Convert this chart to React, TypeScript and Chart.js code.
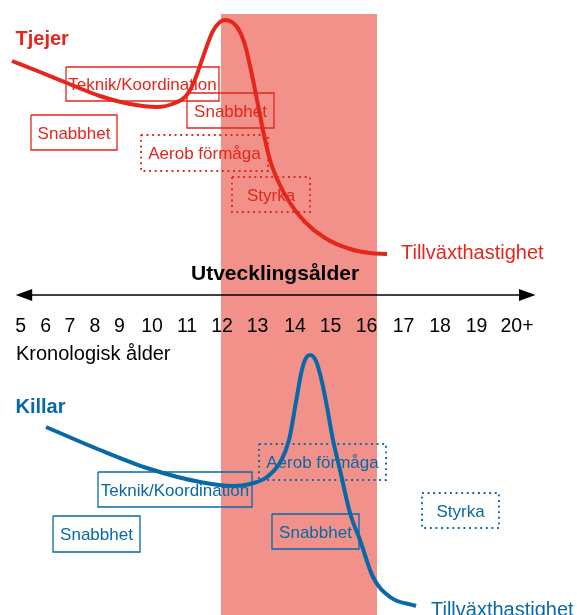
import React, { useEffect, useRef } from "react";
import { Chart, registerables } from "chart.js";

Chart.register(...registerables);

// ---- Diagram data (diagram units: x 0..577, y 0..615 from top) ----
const canvasW = 577;
const canvasH = 615;

// Growth-spurt band (developmental window)
const bandX = [221, 377];
const bandTopY = 14;

// Chronological age tick labels along the arrow
const ageLabels = ["5", "6", "7", "8", "9", "10", "11", "12", "13", "14", "15", "16", "17", "18", "19", "20+"];
const ageLabelX = [20.7, 45.7, 70, 95, 119.5, 152, 187, 222, 257.5, 295, 330.5, 366.5, 403.5, 440, 476.5, 517];

// Growth-velocity curve, girls (Tjejer)
const girlsCurveX = [12, 40, 67, 100, 130, 157, 175, 186, 194, 203, 213, 225, 237, 245, 252, 258, 264, 270, 278, 290, 305, 325, 350, 370, 387];
const girlsCurveY = [61, 72, 83, 96, 104, 107, 103, 96, 82, 57, 31, 20, 27, 45, 75, 105, 135, 160, 181, 203, 222, 238, 249, 253, 254];

// Growth-velocity curve, boys (Killar)
const boysCurveX = [46, 100, 150, 200, 233, 250, 267, 281, 289, 296, 301, 305, 310, 316, 322, 327, 333, 340, 350, 360, 373, 390, 416];
const boysCurveY = [427, 450, 469, 482, 486, 484, 477, 461, 440, 402, 374, 360, 355, 361, 382, 407, 440, 470, 513, 540, 577, 597, 606];

// Training windows, girls
const girlsBoxLabels = ["Teknik/Koordination", "Snabbhet", "Snabbhet", "Aerob förmåga", "Styrka"];
const girlsBoxX = [[66, 219], [187, 274], [31, 117], [141, 268], [232, 310]];
const girlsBoxY = [[67, 101], [93, 128], [115, 150], [135, 171], [177, 212]];
const girlsBoxDotted = [false, false, false, true, true];

// Training windows, boys
const boysBoxLabels = ["Teknik/Koordination", "Snabbhet", "Aerob förmåga", "Snabbhet", "Styrka"];
const boysBoxX = [[98, 252], [53, 140], [259, 386], [272, 359], [422, 499]];
const boysBoxY = [[472, 507], [516, 552], [444, 480], [514, 549], [493, 528]];
const boysBoxDotted = [false, false, true, false, true];

// Colours
const RED = "#e4261c";
const BLUE = "#0868a8";
const PINK = "#f1918a";
const FONT = '"Liberation Sans", Arial, sans-serif';

function boxData(xr: number[], yr: number[]) {
  return [
    { x: xr[0], y: yr[0] },
    { x: xr[1], y: yr[0] },
    { x: xr[1], y: yr[1] },
    { x: xr[0], y: yr[1] },
    { x: xr[0], y: yr[0] },
  ];
}

function boxDatasets(xs: number[][], ys: number[][], dotted: boolean[], color: string) {
  return xs.map((xr, i) => ({
    type: "line" as const,
    data: boxData(xr, ys[i]),
    borderColor: color,
    borderWidth: dotted[i] ? 1.9 : 1.3,
    borderDash: dotted[i] ? [1.9, 3.7] : [],
    borderCapStyle: "butt" as const,
    borderJoinStyle: "miter" as const,
    pointRadius: 0,
    tension: 0,
    fill: false,
    order: 50,
  }));
}

const diagramPlugin = {
  id: "diagramText",
  afterDatasetDraw(chart: any, args: any) {
    if (args.index !== 0) return; // right after the band: box labels under curves
    const { ctx, scales } = chart;
    const xs = scales.x;
    const ys = scales.y;
    ctx.save();
    ctx.font = `17px ${FONT}`;
    ctx.textAlign = "center";
    ctx.textBaseline = "alphabetic";
    const drawLabels = (labels: string[], bx: number[][], by: number[][], color: string) => {
      ctx.fillStyle = color;
      labels.forEach((lab, i) => {
        const cx = xs.getPixelForValue((bx[i][0] + bx[i][1]) / 2);
        const cy = ys.getPixelForValue((by[i][0] + by[i][1]) / 2);
        ctx.fillText(lab, cx, cy + 6);
      });
    };
    drawLabels(girlsBoxLabels, girlsBoxX, girlsBoxY, RED);
    drawLabels(boysBoxLabels, boysBoxX, boysBoxY, BLUE);
    ctx.restore();
  },
  afterDatasetsDraw(chart: any) {
    const { ctx, scales } = chart;
    const px = (v: number) => scales.x.getPixelForValue(v);
    const py = (v: number) => scales.y.getPixelForValue(v);
    ctx.save();

    // arrow axis
    const axisY = py(295);
    const left = px(15.7);
    const right = px(535.5);
    ctx.strokeStyle = "#000";
    ctx.fillStyle = "#000";
    ctx.lineWidth = 1.6;
    ctx.beginPath();
    ctx.moveTo(left + 8, axisY);
    ctx.lineTo(right - 8, axisY);
    ctx.stroke();
    ctx.beginPath();
    ctx.moveTo(left, axisY);
    ctx.lineTo(left + 16.5, axisY - 6);
    ctx.lineTo(left + 16.5, axisY + 6);
    ctx.closePath();
    ctx.fill();
    ctx.beginPath();
    ctx.moveTo(right, axisY);
    ctx.lineTo(right - 16.5, axisY - 6);
    ctx.lineTo(right - 16.5, axisY + 6);
    ctx.closePath();
    ctx.fill();

    // axis title
    ctx.font = `bold 21px ${FONT}`;
    ctx.textAlign = "left";
    ctx.textBaseline = "alphabetic";
    ctx.fillText("Utvecklingsålder", px(191), py(280));

    // tick labels
    ctx.font = `19.5px ${FONT}`;
    ctx.textAlign = "center";
    ageLabels.forEach((lab, i) => {
      ctx.fillText(lab, px(ageLabelX[i]), py(332));
    });
    ctx.textAlign = "left";
    ctx.font = `20px ${FONT}`;
    ctx.fillText("Kronologisk ålder", px(16), py(360));

    // group titles
    ctx.font = `bold 20px ${FONT}`;
    ctx.fillStyle = RED;
    ctx.fillText("Tjejer", px(15.5), py(45));
    ctx.fillStyle = BLUE;
    ctx.fillText("Killar", px(15.5), py(413));

    // curve end labels
    ctx.font = `20px ${FONT}`;
    ctx.fillStyle = RED;
    ctx.fillText("Tillväxthastighet", px(401), py(259));
    ctx.fillStyle = BLUE;
    ctx.fillText("Tillväxthastighet", px(431), py(615.5));

    ctx.restore();
  },
};

export default function App() {
  const ref = useRef<HTMLCanvasElement | null>(null);

  useEffect(() => {
    if (!ref.current) return;
    const datasets: any[] = [
      {
        type: "line",
        data: [
          { x: bandX[0], y: bandTopY },
          { x: bandX[1], y: bandTopY },
        ],
        borderWidth: 0,
        borderColor: "rgba(0,0,0,0)",
        backgroundColor: PINK,
        pointRadius: 0,
        fill: { value: canvasH },
        order: 100,
      },
      ...boxDatasets(girlsBoxX, girlsBoxY, girlsBoxDotted, RED),
      ...boxDatasets(boysBoxX, boysBoxY, boysBoxDotted, BLUE),
      {
        type: "line",
        data: girlsCurveX.map((x, i) => ({ x, y: girlsCurveY[i] })),
        borderColor: RED,
        borderWidth: 4,
        pointRadius: 0,
        cubicInterpolationMode: "monotone",
        fill: false,
        order: 0,
      },
      {
        type: "line",
        data: boysCurveX.map((x, i) => ({ x, y: boysCurveY[i] })),
        borderColor: BLUE,
        borderWidth: 4,
        pointRadius: 0,
        cubicInterpolationMode: "monotone",
        fill: false,
        order: 0,
      },
    ];
    const chart = new Chart(ref.current, {
      type: "line",
      data: { datasets },
      options: {
        animation: false,
        responsive: false,
        devicePixelRatio: 1,
        layout: { padding: 0 },
        events: [],
        plugins: { legend: { display: false }, tooltip: { enabled: false } },
        scales: {
          x: { type: "linear", min: 0, max: canvasW, display: false },
          y: { type: "linear", min: 0, max: canvasH, reverse: true, display: false },
        },
      },
      plugins: [diagramPlugin],
    });
    return () => chart.destroy();
  }, []);

  return (
    <div style={{ position: "absolute", left: 0, top: 0, width: canvasW, height: canvasH, background: "#fff" }}>
      <canvas ref={ref} width={canvasW} height={canvasH} style={{ display: "block" }} />
    </div>
  );
}
